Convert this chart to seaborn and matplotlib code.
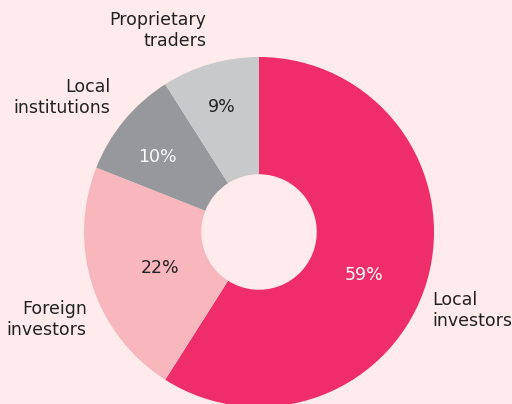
import numpy as np
import matplotlib
matplotlib.use("Agg")
import matplotlib.pyplot as plt
import seaborn as sns

# investor shares (%), clockwise from 12 o'clock
categories = ["Local\ninvestors", "Foreign\ninvestors", "Local\ninstitutions", "Proprietary\ntraders"]
shares = [59, 22, 10, 9]
colors = ["#EF2D69", "#F8B7BC", "#97989B", "#C8C9CB"]
pct_colors = ["white", "#222222", "white", "#222222"]

# layout: percent label radius and angle nudge (deg) per slice
pct_radius = [0.646, 0.596, 0.728, 0.758]
pct_nudge = [-4.8, 1.3, 2.4, 0.0]
label_pos = [(0.99, -0.45), (-0.985, -0.50), (-0.85, 0.77), (-0.30, 1.15)]
label_ha = ["left", "right", "right", "right"]
bg = "#FFEBEC"

sns.set_style("white")
plt.rcParams["font.family"] = ["DejaVu Sans"]

fig = plt.figure(figsize=(5.12, 4.04), dpi=100, facecolor=bg)
ax = fig.add_axes([0, 0, 1, 1])
ax.set_facecolor(bg)

wedges, _ = ax.pie(shares, colors=colors, startangle=90, counterclock=False,
                   radius=1.0, wedgeprops=dict(width=0.67, linewidth=0))

for w, val, r, d, c in zip(wedges, shares, pct_radius, pct_nudge, pct_colors):
    mid = np.deg2rad((w.theta1 + w.theta2) / 2 + d)
    ax.text(r * np.cos(mid), r * np.sin(mid), f"{val}%", ha="center",
            va="center_baseline", fontsize=12.5, color=c)

for lab, (x, y), ha in zip(categories, label_pos, label_ha):
    ax.text(x, y, lab, ha=ha, va="center", fontsize=12.5, color="#222222",
            linespacing=1.25)

ax.set_xlim(-259 / 175, 253 / 175)
ax.set_ylim(-172 / 175, 232 / 175)
ax.set_aspect("auto")
ax.axis("off")

fig.savefig("out.png", dpi=100, facecolor=bg)
